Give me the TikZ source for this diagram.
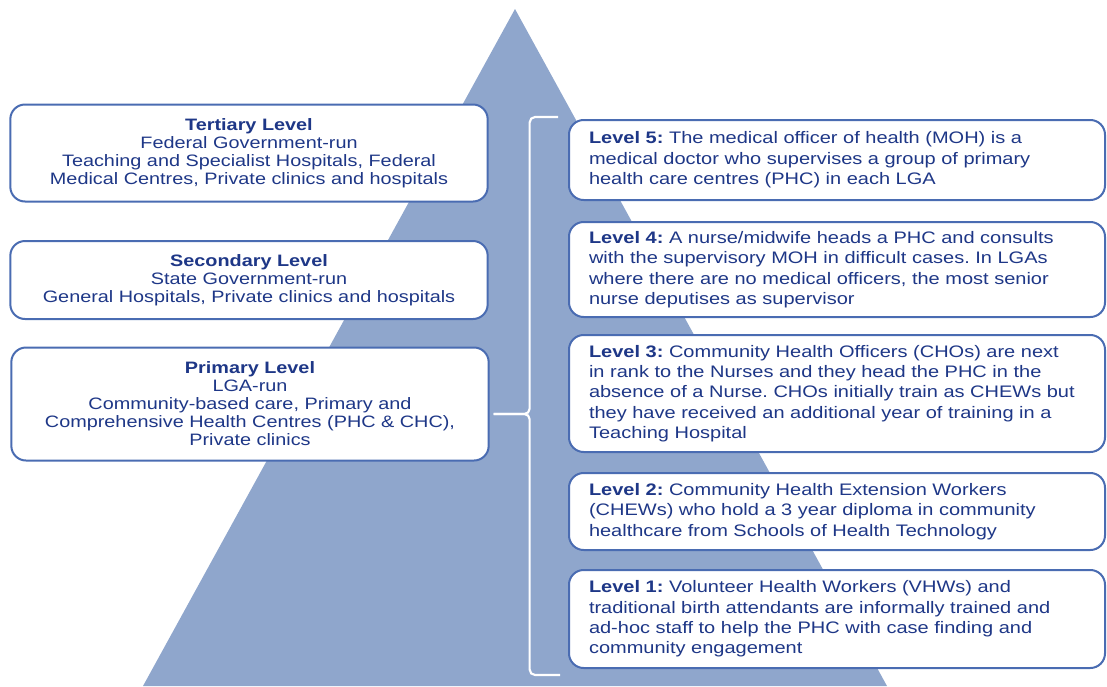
\documentclass[tikz,border=0pt]{standalone}
\usepackage{fontspec}
\setmainfont{Liberation Sans}[FakeStretch=1.2]
\usetikzlibrary{positioning}
\frenchspacing

\definecolor{pyrblue}{RGB}{143,166,204}
\definecolor{boxline}{RGB}{74,108,178}
\definecolor{navytext}{RGB}{30,55,135}

\begin{document}
\begin{tikzpicture}[x=0.75pt,y=0.75pt,yscale=-1,xscale=1,
  tierbox/.style={draw=boxline,line width=1.5pt,fill=white,rounded corners=11pt,text=navytext,
    align=center,text width=340pt,inner xsep=9pt,font=\fontsize{12.4}{13.5}\selectfont},
  levelbox/.style={draw=boxline,line width=1.5pt,fill=white,rounded corners=11pt,text=navytext,
    align=left,text width=372pt,inner xsep=15pt,font=\fontsize{12.5}{15.3}\selectfont},
  brace/.style={draw=white,line width=1.6pt,rounded corners=4pt}]
\useasboundingbox (0,0) rectangle (1107,686);
% pyramid behind everything
\fill[pyrblue] (515,9) -- (887,686) -- (143,686) -- cycle;

% care levels on the left
\node[tierbox,minimum height=72.75pt] (tert) at (249,153) {\textbf{Tertiary Level}\\Federal Government-run\\Teaching and Specialist Hospitals, Federal\\Medical Centres, Private clinics and hospitals};
\node[tierbox,minimum height=58.5pt] (sec) at (249,280) {\textbf{Secondary Level}\\State Government-run\\General Hospitals, Private clinics and hospitals};
\node[tierbox,minimum height=84.75pt] (prim) at (250,404) {\textbf{Primary Level}\\LGA-run\\Community-based care, Primary and\\Comprehensive Health Centres (PHC \& CHC),\\Private clinics};

% staff levels on the right
\node[levelbox,minimum height=60pt] (l5) at (837,160) {\textbf{Level 5:} The medical officer of health (MOH) is a\\medical doctor who supervises a group of primary\\health care centres (PHC) in each LGA};
\node[levelbox,minimum height=71.25pt] (l4) at (837,269.5) {\textbf{Level 4:} A nurse/midwife heads a PHC and consults\\with the supervisory MOH in difficult cases. In LGAs\\where there are no medical officers, the most senior\\nurse deputises as supervisor};
\node[levelbox,minimum height=87.75pt] (l3) at (837,393.5) {\textbf{Level 3:} Community Health Officers (CHOs) are next\\in rank to the Nurses and they head the PHC in the\\absence of a Nurse. CHOs initially train as CHEWs but\\they have received an additional year of training in a\\Teaching Hospital};
\node[levelbox,minimum height=57.75pt] (l2) at (837,511.5) {\textbf{Level 2:} Community Health Extension Workers\\(CHEWs) who hold a 3 year diploma in community\\healthcare from Schools of Health Technology};
\node[levelbox,minimum height=73.5pt] (l1) at (837,619) {\textbf{Level 1:} Volunteer Health Workers (VHWs) and\\traditional birth attendants are informally trained and\\ad-hoc staff to help the PHC with case finding and\\community engagement};

% brace from primary level to the staff levels
\coordinate (btop) at ([xshift=-7.5pt,yshift=-1.5pt]l5.north west);
\coordinate (bbot) at ([xshift=-6pt,yshift=4.5pt]l1.south west);
\coordinate (btip) at ([xshift=3pt,yshift=7.5pt]prim.east);
\coordinate (bmid) at ([xshift=27pt]btip);
\draw[brace] (btop) -| (bmid) -- (btip);
\draw[brace] (btip) -- (bmid) |- (bbot);
\end{tikzpicture}
\end{document}
